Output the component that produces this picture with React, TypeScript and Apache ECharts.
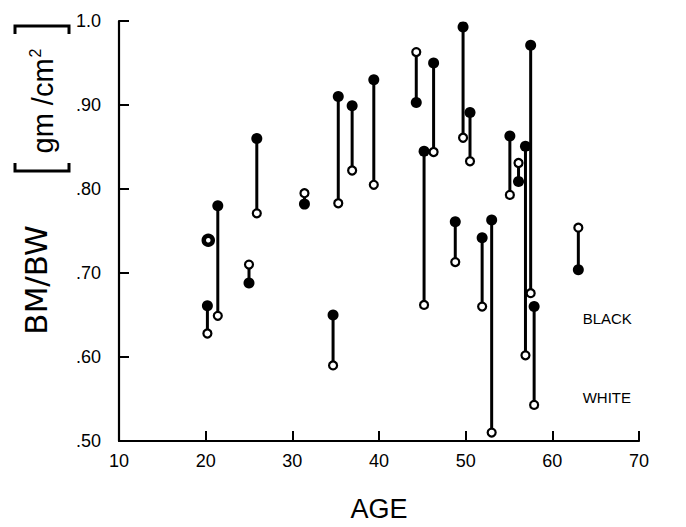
import React, { useEffect, useRef } from "react";
import * as echarts from "echarts";

// Paired bone-mineral / body-weight measurements by age
const ages = [20.2, 20.3, 21.4, 25.0, 25.9, 31.4, 34.7, 35.3, 36.9, 39.4, 44.3, 45.2, 46.3, 48.8, 49.7, 50.5, 51.9, 53.0, 55.1, 56.1, 56.9, 57.5, 57.9, 63.0];
const blackValues = [0.661, 0.739, 0.78, 0.688, 0.86, 0.782, 0.65, 0.91, 0.899, 0.93, 0.903, 0.845, 0.95, 0.761, 0.993, 0.891, 0.742, 0.763, 0.863, 0.809, 0.851, 0.971, 0.66, 0.704];
const whiteValues = [0.628, 0.739, 0.649, 0.71, 0.771, 0.795, 0.59, 0.783, 0.822, 0.805, 0.963, 0.662, 0.844, 0.713, 0.861, 0.833, 0.66, 0.51, 0.793, 0.831, 0.602, 0.676, 0.543, 0.754];

// Pairs where both measurements coincide are drawn as a heavy ring
const coincidentPairs = [1];

const xMin = 10;
const xMax = 70;
const xStep = 10;
const yMin = 0.5;
const yMax = 1.0;
const yStep = 0.1;

// Key labels placed beside the last pair
const keyLabels = ["BLACK", "WHITE"];
const keyPositions: [number, number][] = [
  [63.5, 0.646],
  [63.5, 0.552],
];

const FONT = "'Liberation Sans', Arial, sans-serif";
const TITLE_FONT = "'DejaVu Sans', 'Liberation Sans', sans-serif";

export default function App() {
  const ref = useRef<HTMLDivElement>(null);

  useEffect(() => {
    if (!ref.current) return;
    const chart = echarts.init(ref.current, undefined, { renderer: "svg" });

    const pairData = ages.map((a, i) => [a, blackValues[i], whiteValues[i]]);
    const blackData = ages.map((a, i) => [a, blackValues[i]]);
    const whiteData = ages.map((a, i) => {
      const ring = coincidentPairs.includes(i);
      return {
        value: [a, whiteValues[i]],
        symbolSize: ring ? 9 : 8,
        itemStyle: ring
          ? { color: "#fff", borderColor: "#000", borderWidth: 4.5, opacity: 1 }
          : { color: "#fff", borderColor: "#000", borderWidth: 2.2, opacity: 1 },
      };
    });

    const axisCommon = {
      axisLine: { show: true, onZero: false, lineStyle: { color: "#000", width: 2.2 } },
      axisTick: { show: true, inside: true, length: 10, lineStyle: { color: "#000", width: 2 } },
      splitLine: { show: false },
    };

    // Bracketed unit on the vertical title, drawn as thin strokes
    const bx0 = 15;
    const bx1 = 69;
    const arm = 8;
    const bracketTop = 26;
    const bracketBottom = 171;

    chart.setOption({
      animation: false,
      backgroundColor: "#fff",
      grid: { left: 119, right: 47, top: 21, bottom: 82, containLabel: false },
      xAxis: {
        type: "value",
        min: xMin,
        max: xMax,
        interval: xStep,
        ...axisCommon,
        axisLabel: { color: "#000", fontSize: 18, fontFamily: FONT, margin: 11 },
        name: "AGE",
        nameLocation: "middle",
        nameGap: 54,
        nameTextStyle: { color: "#000", fontSize: 27, fontFamily: FONT },
      },
      yAxis: {
        type: "value",
        min: yMin,
        max: yMax,
        interval: yStep,
        ...axisCommon,
        axisLabel: {
          color: "#000",
          fontSize: 18,
          fontFamily: FONT,
          margin: 18,
          formatter: (v: number) => (Math.abs(v - 1) < 1e-6 ? "1.0" : "." + Math.round(v * 100)),
        },
      },
      graphic: [
        {
          type: "text",
          x: 36,
          y: 280,
          rotation: Math.PI / 2,
          style: {
            text: "BM/BW",
            fill: "#000",
            font: `31px ${TITLE_FONT}`,
            align: "center",
            verticalAlign: "middle",
          },
        },
        {
          type: "text",
          x: 43,
          y: 101,
          rotation: Math.PI / 2,
          style: {
            text: "{m|gm /cm}{s|2}",
            align: "center",
            verticalAlign: "middle",
            rich: {
              m: { fontSize: 29, fontFamily: FONT, fill: "#000" },
              s: { fontSize: 16, fontFamily: FONT, fill: "#000", padding: [0, 0, 16, 1] },
            },
          },
        },
        {
          type: "polyline",
          shape: { points: [[bx0, bracketBottom - arm], [bx0, bracketBottom], [bx1, bracketBottom], [bx1, bracketBottom - arm]] },
          style: { stroke: "#000", lineWidth: 3, fill: "none" },
        },
        {
          type: "polyline",
          shape: { points: [[bx0, bracketTop + arm], [bx0, bracketTop], [bx1, bracketTop], [bx1, bracketTop + arm]] },
          style: { stroke: "#000", lineWidth: 3, fill: "none" },
        },
      ],
      series: [
        {
          type: "custom",
          z: 2,
          data: pairData,
          encode: { x: 0, y: [1, 2] },
          renderItem: (_params: any, api: any) => {
            const p1 = api.coord([api.value(0), api.value(1)]);
            const p2 = api.coord([api.value(0), api.value(2)]);
            return {
              type: "line",
              shape: { x1: p1[0], y1: p1[1], x2: p2[0], y2: p2[1] },
              style: { stroke: "#000", lineWidth: 3 },
            };
          },
        },
        {
          type: "scatter",
          z: 3,
          symbol: "circle",
          symbolSize: 11,
          itemStyle: { color: "#000", opacity: 1 },
          data: blackData,
        },
        {
          type: "scatter",
          z: 4,
          symbol: "circle",
          data: whiteData,
        },
        {
          type: "scatter",
          z: 5,
          symbolSize: 0,
          silent: true,
          itemStyle: { opacity: 1 },
          data: keyPositions.map((p, i) => ({ value: p, name: keyLabels[i] })),
          label: {
            show: true,
            position: [0, 0],
            align: "left",
            verticalAlign: "middle",
            formatter: (p: any) => p.name,
            color: "#000",
            fontSize: 15,
            fontFamily: FONT,
          },
        },
      ],
    });

    return () => chart.dispose();
  }, []);

  return (
    <div
      ref={ref}
      style={{ position: "absolute", left: 0, top: 0, width: 686, height: 527 }}
    />
  );
}
